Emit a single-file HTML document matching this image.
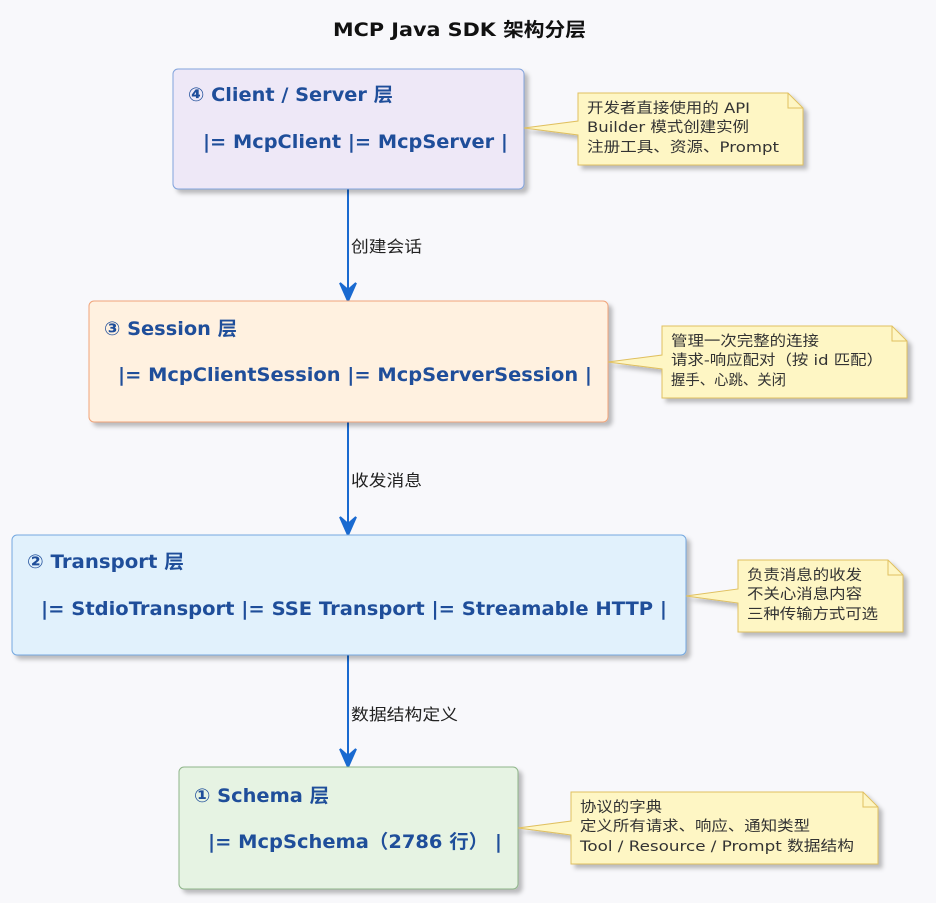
<!DOCTYPE html>
<html><head><meta charset="utf-8"><style>
body{margin:0;background:#f8f8fb;}
svg{display:block;font-family:"DejaVu Sans","Noto Sans CJK SC",sans-serif;}
.h{font-weight:bold;font-size:19px;fill:#1f4e9a;}
.n{font-size:14.5px;fill:#333;}
.l{font-size:16px;fill:#222;}
</style></head><body>
<svg width="936" height="903" viewBox="0 0 936 903" xmlns="http://www.w3.org/2000/svg">
<defs><filter id="s" x="-10%" y="-10%" width="130%" height="130%"><feDropShadow dx="4" dy="4" stdDeviation="2" flood-color="#000" flood-opacity="0.25"/></filter></defs>
<rect width="936" height="903" fill="#f8f8fb"/>
<text x="333" y="36" font-weight="bold" font-size="19" fill="#111" textLength="253" lengthAdjust="spacingAndGlyphs">MCP Java SDK 架构分层</text>

<g stroke="#1a6ad0" stroke-width="2" fill="#1a6ad0">
<line x1="348" y1="189" x2="348" y2="296"/><path d="M340 283 L348 301 L356 283 L348 290Z"/>
<line x1="348" y1="422" x2="348" y2="530"/><path d="M340 517 L348 535 L356 517 L348 524Z"/>
<line x1="348" y1="655" x2="348" y2="762"/><path d="M340 749 L348 767 L356 749 L348 756Z"/>
</g>
<text class="l" x="351" y="252" textLength="71" lengthAdjust="spacingAndGlyphs">创建会话</text>
<text class="l" x="351" y="486" textLength="71" lengthAdjust="spacingAndGlyphs">收发消息</text>
<text class="l" x="351" y="720" textLength="107" lengthAdjust="spacingAndGlyphs">数据结构定义</text>

<rect x="173" y="69" width="351" height="120" rx="5" fill="#eee8f7" stroke="#82a3dc" filter="url(#s)"/>
<text class="h" x="188" y="101" textLength="205" lengthAdjust="spacingAndGlyphs">④ Client / Server 层</text>
<text class="h" x="203" y="148" textLength="305" lengthAdjust="spacingAndGlyphs">|= McpClient |= McpServer |</text>

<rect x="89" y="301" width="519" height="121" rx="5" fill="#fff1e0" stroke="#f0a47a" filter="url(#s)"/>
<text class="h" x="104" y="335" textLength="133" lengthAdjust="spacingAndGlyphs">③ Session 层</text>
<text class="h" x="118" y="381" textLength="474" lengthAdjust="spacingAndGlyphs">|= McpClientSession |= McpServerSession |</text>

<rect x="12" y="535" width="674" height="120" rx="5" fill="#e1f1fc" stroke="#74a8e0" filter="url(#s)"/>
<text class="h" x="27" y="568" textLength="157" lengthAdjust="spacingAndGlyphs">② Transport 层</text>
<text class="h" x="41" y="615" textLength="626" lengthAdjust="spacingAndGlyphs">|= StdioTransport |= SSE Transport |= Streamable HTTP |</text>

<rect x="179" y="767" width="339" height="122" rx="5" fill="#e6f3e3" stroke="#8fb58a" filter="url(#s)"/>
<text class="h" x="194" y="802" textLength="135" lengthAdjust="spacingAndGlyphs">① Schema 层</text>
<text class="h" x="208" y="848" textLength="294" lengthAdjust="spacingAndGlyphs">|= McpSchema（2786 行） |</text>

<g fill="#fef6c4" stroke="#e0c060" stroke-width="1">
<path d="M578 93 H788 L803 108 V165 H578 V135 L524 128 L578 121Z" filter="url(#s)"/>
<path d="M662 326 H892 L907 341 V398 H662 V369 L608 362 L662 355Z" filter="url(#s)"/>
<path d="M738 560 H888 L903 575 V632 H738 V603 L686 596 L738 589Z" filter="url(#s)"/>
<path d="M571 792 H863 L878 807 V864 H571 V835 L518 828 L571 821Z" filter="url(#s)"/>
<path d="M788 93 V108 H803" fill="none"/><path d="M892 326 V341 H907" fill="none"/>
<path d="M888 560 V575 H903" fill="none"/><path d="M863 792 V807 H878" fill="none"/>
</g>
<text class="n" x="587" y="113" textLength="163" lengthAdjust="spacingAndGlyphs">开发者直接使用的 API</text>
<text class="n" x="587" y="132" textLength="162" lengthAdjust="spacingAndGlyphs">Builder 模式创建实例</text>
<text class="n" x="587" y="152" textLength="192" lengthAdjust="spacingAndGlyphs">注册工具、资源、Prompt</text>
<text class="n" x="671" y="346" textLength="148" lengthAdjust="spacingAndGlyphs">管理一次完整的连接</text>
<text class="n" x="671" y="365" textLength="212" lengthAdjust="spacingAndGlyphs">请求-响应配对（按 id 匹配）</text>
<text class="n" x="671" y="385" textLength="115" lengthAdjust="spacingAndGlyphs">握手、心跳、关闭</text>
<text class="n" x="747" y="580" textLength="115" lengthAdjust="spacingAndGlyphs">负责消息的收发</text>
<text class="n" x="747" y="599" textLength="115" lengthAdjust="spacingAndGlyphs">不关心消息内容</text>
<text class="n" x="747" y="619" textLength="131" lengthAdjust="spacingAndGlyphs">三种传输方式可选</text>
<text class="n" x="580" y="812" textLength="82" lengthAdjust="spacingAndGlyphs">协议的字典</text>
<text class="n" x="580" y="831" textLength="230" lengthAdjust="spacingAndGlyphs">定义所有请求、响应、通知类型</text>
<text class="n" x="580" y="851" textLength="274" lengthAdjust="spacingAndGlyphs">Tool / Resource / Prompt 数据结构</text>
</svg>
</body></html>
